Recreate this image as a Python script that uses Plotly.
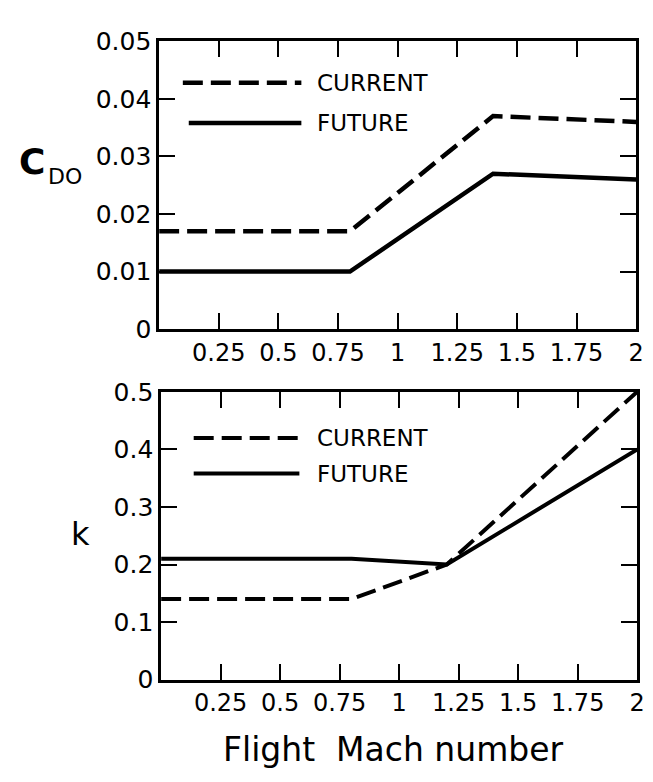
import plotly.graph_objects as go

# ---- data ----
mach_cd_current = [0.0, 0.8, 1.4, 2.0]
cd_current = [0.017, 0.017, 0.037, 0.036]
mach_cd_future = [0.0, 0.8, 1.4, 2.0]
cd_future = [0.010, 0.010, 0.027, 0.026]

mach_k_current = [0.0, 0.8, 1.2, 2.0]
k_current = [0.14, 0.14, 0.20, 0.50]
mach_k_future = [0.0, 0.8, 1.2, 2.0]
k_future = [0.21, 0.21, 0.20, 0.40]

x_tickvals = [0.25, 0.5, 0.75, 1.0, 1.25, 1.5, 1.75, 2.0]
x_ticktext = ["0.25", "0.5", "0.75", "1", "1.25", "1.5", "1.75", "2"]
cd_tickvals = [0, 0.01, 0.02, 0.03, 0.04, 0.05]
cd_ticktext = ["0", "0.01", "0.02", "0.03", "0.04", "0.05"]
k_tickvals = [0, 0.1, 0.2, 0.3, 0.4, 0.5]
k_ticktext = ["0", "0.1", "0.2", "0.3", "0.4", "0.5"]

W, H = 653, 782
FONT = "DejaVu Sans"

def px_x(p):
    return p / W

def px_y(p):
    return 1 - p / H

fig = go.Figure()
DASH = "20px,8px"

fig.add_trace(go.Scatter(x=mach_cd_current, y=cd_current, mode="lines",
                         line=dict(color="black", width=4.5, dash=DASH),
                         xaxis="x", yaxis="y", showlegend=False))
fig.add_trace(go.Scatter(x=mach_cd_future, y=cd_future, mode="lines",
                         line=dict(color="black", width=4.5),
                         xaxis="x", yaxis="y", showlegend=False))
fig.add_trace(go.Scatter(x=mach_k_current, y=k_current, mode="lines",
                         line=dict(color="black", width=4, dash=DASH),
                         xaxis="x2", yaxis="y2", showlegend=False))
fig.add_trace(go.Scatter(x=mach_k_future, y=k_future, mode="lines",
                         line=dict(color="black", width=4),
                         xaxis="x2", yaxis="y2", showlegend=False))

axis_common = dict(showgrid=False, zeroline=False, showline=True, linecolor="black",
                   linewidth=2.5, mirror="ticks", ticks="inside", ticklen=16,
                   tickwidth=2, tickcolor="black")
xfont = dict(family=FONT, size=24, color="black")
yfont = dict(family=FONT, size=25, color="black")

fig.update_layout(
    width=W, height=H,
    margin=dict(l=0, r=0, t=0, b=0),
    paper_bgcolor="white", plot_bgcolor="white",
    xaxis=dict(domain=[px_x(153), px_x(636)], range=[0, 2], anchor="y",
               tickvals=x_tickvals, ticktext=x_ticktext, tickfont=xfont, **axis_common),
    yaxis=dict(domain=[px_y(319), px_y(20)], range=[0, 0.05], anchor="x",
               tickvals=cd_tickvals, ticktext=cd_ticktext, tickfont=yfont, **axis_common),
    xaxis2=dict(domain=[px_x(155), px_x(637)], range=[0, 2], anchor="y2",
                tickvals=x_tickvals, ticktext=x_ticktext, tickfont=xfont, **axis_common),
    yaxis2=dict(domain=[px_y(683), px_y(384)], range=[0, 0.5], anchor="x2",
                tickvals=k_tickvals, ticktext=k_ticktext, tickfont=yfont, **axis_common),
)

# legend keys (drawn as shapes in pixel-derived paper coordinates)
legend_items = [
    (177, 297, 63, "dash", "CURRENT", 4.5),
    (183, 297, 105, "solid", "FUTURE", 4.5),
    (188, 295, 432, "dash", "CURRENT", 4),
    (188, 295, 469, "solid", "FUTURE", 4),
]
for x0, x1, yy, dash, label, lw in legend_items:
    fig.add_shape(type="line", xref="paper", yref="paper",
                  x0=px_x(x0), x1=px_x(x1), y0=px_y(yy), y1=px_y(yy),
                  line=dict(color="black", width=lw, dash=DASH if dash == "dash" else "solid"))
    fig.add_annotation(xref="paper", yref="paper", x=px_x(311), y=px_y(yy),
                       text=label, showarrow=False, xanchor="left", yanchor="middle",
                       font=dict(family=FONT, size=23, color="black"))

# axis titles
fig.add_annotation(xref="paper", yref="paper", x=px_x(9), y=px_y(145),
                   text="<b>C</b>", showarrow=False,
                   xanchor="left", yanchor="middle",
                   font=dict(family=FONT, size=36, color="black"))
fig.add_annotation(xref="paper", yref="paper", x=px_x(38), y=px_y(160),
                   text="DO", showarrow=False,
                   xanchor="left", yanchor="middle",
                   font=dict(family=FONT, size=22, color="black"))
fig.add_annotation(xref="paper", yref="paper", x=px_x(73), y=px_y(532),
                   text="k", showarrow=False, xanchor="center", yanchor="middle",
                   font=dict(family=FONT, size=32, color="black"))
fig.add_annotation(xref="paper", yref="paper", x=px_x(390), y=px_y(755),
                   text="Flight  Mach number", showarrow=False,
                   xanchor="center", yanchor="middle",
                   font=dict(family=FONT, size=33, color="black"))

fig.write_html("out.html")
